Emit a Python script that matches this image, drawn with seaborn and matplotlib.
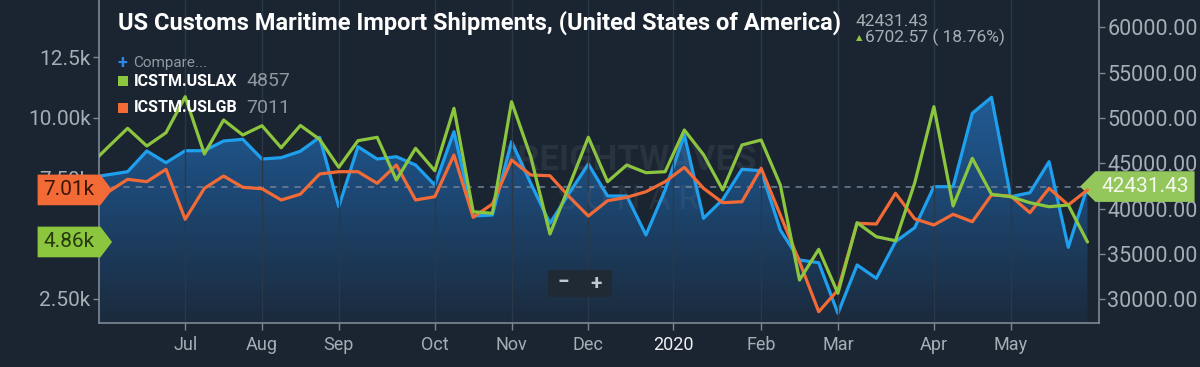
import numpy as np
import pandas as pd
import matplotlib
matplotlib.use("Agg")
import matplotlib.pyplot as plt
import matplotlib.dates as mdates
from matplotlib.path import Path
from matplotlib.patches import Rectangle
from matplotlib.colors import LinearSegmentedColormap
import seaborn as sns

# ---------------- data ----------------
weeks = pd.date_range("2019-06-02", "2020-05-31", freq="W-SUN")

uslax = [8017, 8796, 9561, 8829, 9379, 10869, 8498, 9905, 9284, 9669,
         8758, 9680, 9106, 7947, 9048, 9189, 7421, 8734, 7806, 10389,
         6109, 6043, 10662, 8386, 5186, 7173, 9189, 7351, 8042, 7724,
         7765, 9491, 8469, 7008, 8870, 9077, 7214, 3282, 4553, 2732,
         5654, 5075, 4909, 7300, 10455, 6345, 8320, 6830, 6730, 6482,
         6316, 6387, 4857]

uslgb = [6407, 6933, 7450, 7351, 7864, 5795, 7078, 7587, 7119, 7061,
         6594, 6836, 7670, 7765, 7765, 7285, 8042, 6594, 6730, 8456,
         5878, 6428, 8249, 7628, 7599, 6730, 5931, 6565, 6705, 6937,
         7351, 7947, 7078, 6482, 6523, 7906, 5973, 4040, 1970, 2869,
         5629, 5600, 6871, 5815, 5559, 6002, 5695, 6801, 6759, 6068,
         7078, 6387, 7011]

usa = [43411, 43742, 44073, 46356, 45065, 46389, 46389, 47459, 47646, 45473,
       45617, 46330, 47867, 40212, 46830, 45473, 45727, 44812, 42606, 48485,
       39186, 39297, 47382, 42793, 38381, 41690, 44922, 41392, 41392, 37091,
       42054, 48121, 38933, 41000, 44337, 44183, 37642, 34333, 34035, 28454,
       33782, 32315, 36352, 37900, 42418, 42418, 50514, 52279, 41315, 41756,
       45176, 35729, 42431.43]

series_names = ["ICSTM.USLAX", "ICSTM.USLGB"]
series_last = ["4857", "7011"]
left_ticks = [2500, 5000, 7500, 10000, 12500]
left_tick_labels = ["2.50k", "5.00k", "7.50k", "10.00k", "12.5k"]
right_ticks = [30000, 35000, 40000, 45000, 50000, 55000, 60000]
right_tick_labels = ["30000.00", "35000.00", "40000.00", "45000.00",
                     "50000.00", "55000.00", "60000.00"]
title = "US Customs Maritime Import Shipments, (United States of America)"
last_value = 42431.43
change_text = "6702.57 ( 18.76%)"

# ---------------- style ----------------
BG = "#1b2531"
GREEN = "#8cc63e"
ORANGE = "#f26a35"
BLUE = "#1ea0ef"
TICK = "#a6adb5"
SPINE = "#7d8894"

sns.set_theme(style="dark")
plt.rcParams["font.family"] = ["Roboto", "DejaVu Sans"]

W, H = 1200, 367
fig = plt.figure(figsize=(W / 100, H / 100), dpi=100, facecolor=BG)


def fx(x):
    return x / W


def fy(y):
    return 1 - y / H


ax = fig.add_axes([fx(99), 44 / H, 1000 / W, 323 / H])
ax2 = ax.twinx()
ax.set_zorder(ax2.get_zorder() + 1)
ax.patch.set_visible(False)
ax2.patch.set_visible(False)

xd = mdates.date2num(weeks)
d0 = mdates.date2num(pd.Timestamp("2019-07-07"))
x_lo, x_hi = d0 - 7 * 4.49, d0 + 7 * 47.6
left_lim = (1503, 14872)
right_lim = (27384, 63011)

# ---- blue series with gradient area (right axis) ----
poly = ax2.fill_between(xd, usa, right_lim[0], color="none", lw=0)
grad = np.linspace(0, 1, 256).reshape(-1, 1)
cmap = LinearSegmentedColormap.from_list("g", ["#1c2b3d", "#1e4a78", "#2366a6"])
im = ax2.imshow(grad, extent=[x_lo, x_hi, right_lim[0], 56000], origin="lower",
                aspect="auto", cmap=cmap, zorder=1, alpha=0.95)
im.set_clip_path(poly.get_paths()[0], poly.get_transform())
sns.lineplot(x=xd, y=usa, ax=ax2, color=BLUE, linewidth=2.3, zorder=3)
ax2.axhline(last_value, color="#71829a", lw=1.1, ls=(0, (4, 4)), zorder=2)

# ---- green / orange (left axis) ----
sns.lineplot(x=xd, y=uslgb, ax=ax, color=ORANGE, linewidth=2.3, zorder=3)
sns.lineplot(x=xd, y=uslax, ax=ax, color=GREEN, linewidth=2.3, zorder=4)

ax.set_xlim(x_lo, x_hi)
ax2.set_xlim(x_lo, x_hi)
ax.set_ylim(*left_lim)
ax2.set_ylim(*right_lim)

# x ticks: first week of each month (year label at Jan 1)
tick_pos, tick_lab = [], []
for m in pd.date_range("2019-07-01", "2020-05-01", freq="MS"):
    if m.month == 1:
        tick_pos.append(mdates.date2num(m))
        tick_lab.append(str(m.year))
    else:
        first = weeks[weeks >= m][0]
        tick_pos.append(mdates.date2num(first))
        tick_lab.append(m.strftime("%b"))
ax.set_xticks(tick_pos)
ax.set_xticklabels(tick_lab)

ax.set_yticks(left_ticks)
ax.set_yticklabels(left_tick_labels)
ax2.set_yticks(right_ticks)
ax2.set_yticklabels(right_tick_labels)

ax.tick_params(axis="x", colors=SPINE, labelcolor=TICK, length=5, width=1,
               labelsize=13, pad=4, direction="out", bottom=True, labelbottom=True)
ax.tick_params(axis="y", colors=SPINE, labelcolor=TICK, length=4, width=1,
               labelsize=15, pad=2, direction="out", left=True)
ax2.tick_params(axis="y", colors=SPINE, labelcolor=TICK, length=4, width=1,
                labelsize=15.5, pad=2, direction="out", right=True)
ax2.tick_params(axis="x", bottom=False, labelbottom=False)
for t in ax.get_xticklabels():
    if t.get_text() == "2020":
        t.set_color("#eef1f4")

ax.grid(axis="x", color="#2a3848", lw=1)
ax.grid(axis="y", visible=False)
ax2.grid(False)
for a in (ax, ax2):
    for s in a.spines.values():
        s.set_visible(False)
ax.spines["left"].set_visible(True)
ax.spines["bottom"].set_visible(True)
ax2.spines["right"].set_visible(True)
for s in (ax.spines["left"], ax.spines["bottom"], ax2.spines["right"]):
    s.set_color(SPINE)
    s.set_linewidth(1.2)
ax.set_xlabel("")
ax.set_ylabel("")
ax2.set_ylabel("")


# ---- value flags ----
def flag_right(x0, y0, width, height, mutation_size):
    pad = 0.28 * mutation_size
    x0 -= pad; y0 -= pad
    w = width + 2 * pad; h = height + 2 * pad
    tip = h * 0.38
    return Path([(x0, y0), (x0 + w, y0), (x0 + w + tip, y0 + h / 2),
                 (x0 + w, y0 + h), (x0, y0 + h), (x0, y0)], closed=True)


def flag_left(x0, y0, width, height, mutation_size):
    pad = 0.28 * mutation_size
    x0 -= pad; y0 -= pad
    w = width + 2 * pad; h = height + 2 * pad
    tip = h * 0.5
    return Path([(x0, y0), (x0 + w, y0), (x0 + w, y0 + h), (x0, y0 + h),
                 (x0 - tip, y0 + h / 2), (x0, y0)], closed=True)


ax.annotate("7.01k", xy=(-0.03, uslgb[-1]), xycoords=("axes fraction", "data"),
            ha="center", va="center", fontsize=15, color="#3a1606",
            bbox=dict(boxstyle=flag_right, fc=ORANGE, ec="none"),
            annotation_clip=False, zorder=10)
ax.annotate("4.86k", xy=(-0.03, uslax[-1]), xycoords=("axes fraction", "data"),
            ha="center", va="center", fontsize=15, color="#263a0e",
            bbox=dict(boxstyle=flag_right, fc=GREEN, ec="none"),
            annotation_clip=False, zorder=10)
ax2.annotate("42431.43", xy=(1.046, last_value), xycoords=("axes fraction", "data"),
             ha="center", va="center", fontsize=15, color="#f4f8ee",
             bbox=dict(boxstyle=flag_left, fc="#93c75c", ec="none"),
             annotation_clip=False, zorder=10)

# ---- title and header ----
fig.text(fx(118), fy(11), title, ha="left", va="top", fontsize=17,
         fontweight="bold", color="white")
fig.text(fx(855), fy(21), f"{last_value:.2f}", ha="left", va="center",
         fontsize=12.5, color=TICK)
fig.text(fx(856), fy(38), "\u25B2", ha="left", va="center", fontsize=6,
         color=GREEN, family=["DejaVu Sans"])
fig.text(fx(865), fy(37), change_text, ha="left", va="center",
         fontsize=12.5, color=TICK)

# ---- legend ----
fig.text(fx(118), fy(63), "+", ha="left", va="center", fontsize=13,
         color="#2f86e8", fontweight="bold")
fig.text(fx(133), fy(63), "Compare...", ha="left", va="center", fontsize=11,
         color="#8f979f")
for i, (name, val, col) in enumerate(zip(series_names, series_last, [GREEN, ORANGE])):
    yc = 81 + 27 * i
    fig.patches.append(Rectangle((fx(118), fy(yc + 5)), 10 / W, 10 / H,
                                 transform=fig.transFigure, fc=col, ec="none"))
    fig.text(fx(134), fy(yc), name, ha="left", va="center", fontsize=11.5,
             fontweight="bold", color="white")
    fig.text(fx(246), fy(yc), val, ha="left", va="center", fontsize=14,
             color="#8f979f")

# ---- watermark ----
fig.text(fx(628), fy(160), "FREIGHTWAVES", ha="center", va="center",
         fontsize=25, fontweight="bold", color="#8592a0", alpha=0.13)
fig.text(fx(628), fy(200), "S O N A R", ha="center", va="center",
         fontsize=24, color="#8592a0", alpha=0.12)

# ---- zoom buttons ----
fig.patches.append(Rectangle((fx(548), fy(297)), 64 / W, 27 / H,
                             transform=fig.transFigure, fc="#1f2a35", ec="none"))
fig.text(fx(563), fy(283), "\u2212", ha="center", va="center", fontsize=15,
         fontweight="bold", color="#c3c9cf")
fig.text(fx(596), fy(283), "+", ha="center", va="center", fontsize=15,
         fontweight="bold", color="#c3c9cf")

fig.savefig("out.png", dpi=100, facecolor=BG)
